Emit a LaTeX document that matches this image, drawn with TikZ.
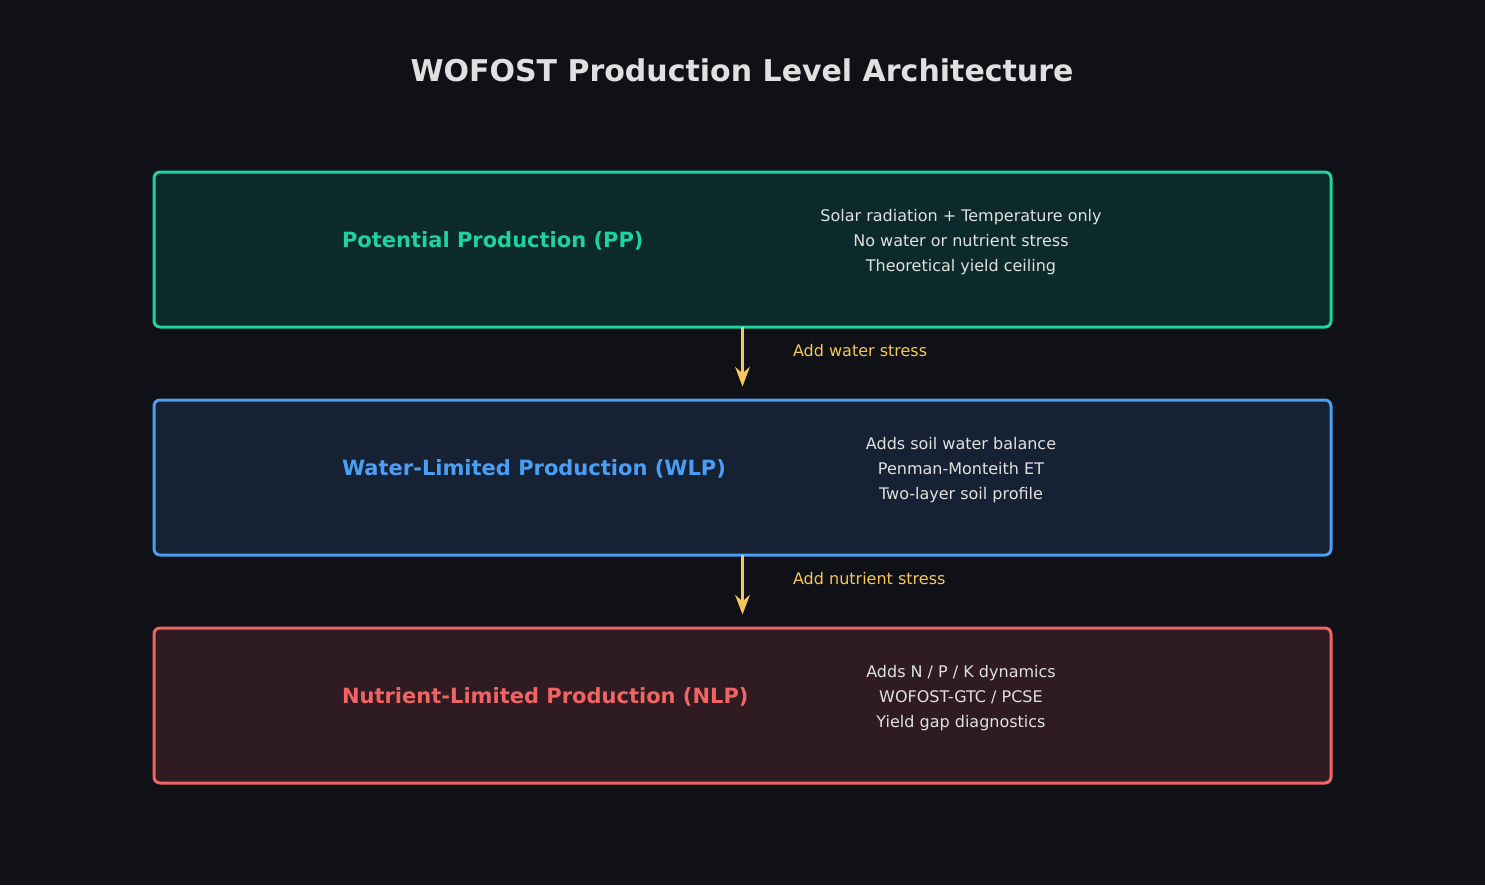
\documentclass[tikz,border=0pt]{standalone}
\usepackage{fontspec}
\setmainfont{DejaVu Sans}
\usetikzlibrary{arrows.meta,positioning}
\definecolor{bgc}{HTML}{101116}
\definecolor{txt}{HTML}{E0E0E0}
\definecolor{ppc}{HTML}{1ED3A0}
\definecolor{ppf}{HTML}{0C2A2B}
\definecolor{wlc}{HTML}{4A9EF5}
\definecolor{wlf}{HTML}{162234}
\definecolor{nlc}{HTML}{F26464}
\definecolor{nlf}{HTML}{2E1C22}
\definecolor{arr}{HTML}{F5C65A}
\tikzset{
    every picture/.style = {
        > = Stealth
    },
    level/.style = {
        draw = #1,
        line width = 1.5pt,
        rounded corners = 3pt,
        minimum width = 588.5pt,
        minimum height = 77.5pt,
        inner sep = 0pt
    },
    heading/.style = {
        anchor = west,
        font = \fontsize{10.5}{12}\selectfont\bfseries,
        text = #1
    },
    notes/.style = {
        align = center,
        text = txt,
        font = \fontsize{8}{12.5}\selectfont
    },
    stress arrow/.style = {
        ->,
        draw = arr,
        line width = 1.5pt,
        shorten > = 6pt,
        shorten < = -1pt
    },
    stress label/.style = {
        anchor = west,
        text = arr,
        font = \fontsize{8}{10}\selectfont
    }
}
\begin{document}
\begin{tikzpicture}[x=0.5pt, y=-0.5pt]
    \fill[bgc] (0, 0) rectangle (1485, 885);
    \useasboundingbox (0, 0) rectangle (1485, 885);

    \node[text = txt, font = \fontsize{15}{18}\selectfont\bfseries] (title) at (742, 70) {WOFOST Production Level Architecture};

    % production levels
    \node[level = ppc, fill = ppf] (pp) at (742.5, 249.5) {};
    \node[level = wlc, fill = wlf] (wlp) at (742.5, 477.5) {};
    \node[level = nlc, fill = nlf] (nlp) at (742.5, 705.5) {};

    \node[heading = ppc] (pphead) at (335, 241) {Potential Production (PP)};
    \node[heading = wlc] (wlphead) at (335, 469) {Water-Limited Production (WLP)};
    \node[heading = nlc] (nlphead) at (335, 697) {Nutrient-Limited Production (NLP)};

    \node[notes] (ppnotes) at (961, 242) {Solar radiation + Temperature only\\No water or nutrient stress\\Theoretical yield ceiling};
    \node[notes] (wlpnotes) at (961, 470) {Adds soil water balance\\Penman-Monteith ET\\Two-layer soil profile};
    \node[notes] (nlpnotes) at (961, 698) {Adds N / P / K dynamics\\WOFOST-GTC / PCSE\\Yield gap diagnostics};

    % stress steps
    \draw[stress arrow] (pp.south) -- (wlp.north);
    \draw[stress arrow] (wlp.south) -- (nlp.north);
    \node[stress label] (water) at (786, 351) {Add water stress};
    \node[stress label] (nutrient) at (786, 579) {Add nutrient stress};
\end{tikzpicture}
\end{document}
